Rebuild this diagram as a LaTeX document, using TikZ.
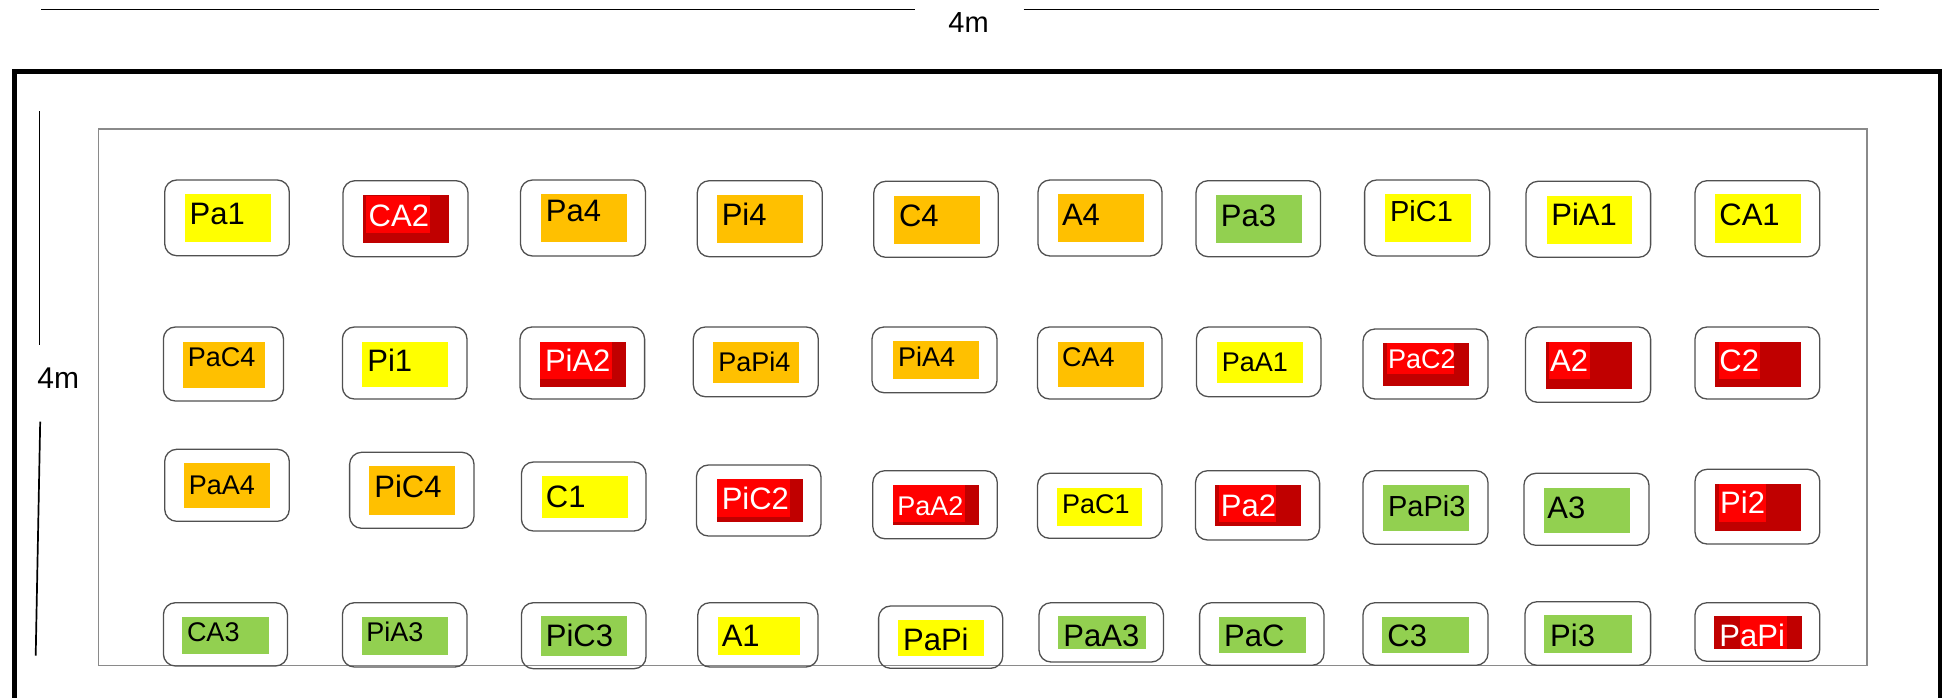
\documentclass[tikz,border=0pt]{standalone}
\usepackage{fontspec}
\setmainfont{Liberation Sans}
\definecolor{cyel}{HTML}{FFFF00}
\definecolor{corg}{HTML}{FFC000}
\definecolor{cgrn}{HTML}{92D050}
\definecolor{cdred}{HTML}{C00000}
\definecolor{cred}{HTML}{FF0000}
\definecolor{boxgray}{HTML}{505050}
\definecolor{rimgray}{HTML}{8A8A8A}
\tikzset{
  bedbox/.style={draw=boxgray, line width=0.65pt, rounded corners=6pt},
  lbl/.style={anchor=base west, inner sep=0pt, font=\fontsize{15.5}{18}\selectfont},
  sm/.style={font=\fontsize{13.5}{16}\selectfont},
  md/.style={font=\fontsize{14.5}{17}\selectfont},
  wt/.style={text=white},
  dimline/.style={line width=0.85pt, black},
  dimtxt/.style={anchor=base west, inner sep=0pt, font=\fontsize{14.5}{17}\selectfont}
}
\begin{document}
\begin{tikzpicture}[x=0.5pt,y=-0.5pt]
\useasboundingbox (0,0) rectangle (1944,697);
% dimensions
\coordinate (t1) at (41,9.5); \coordinate (t2) at (914.5,9.5);
\coordinate (t3) at (1023.5,9.5); \coordinate (t4) at (1878.6,9.5);
\draw[dimline] (t1) -- (t2);
\draw[dimline] (t3) -- (t4);
\node[dimtxt] (topdim) at (948,32.5) {4m};
\coordinate (l1) at (39.5,111); \coordinate (l2) at (39.5,345);
\coordinate (l3) at (40.2,421.7); \coordinate (l4) at (35.7,655.7);
\draw[dimline] (l1) -- (l2);
\draw[dimline] (l3) -- (l4);
\node[dimtxt, font=\fontsize{15}{18}\selectfont] (leftdim) at (37,388.3) {4m};
% outer wall and inner field
\draw[line width=2.3pt, black] (14.7,720) -- (14.7,71.5) -- (1940,71.5) -- (1940,720);
\draw[rimgray, line width=0.6pt] (98.7,129) rectangle (1867,665.7);

% ===== Row 1 =====
\draw[bedbox] (164.7,180) rectangle (289.3,255.7);
\fill[cyel] (184.8,194) rectangle (271,241.7);
\node[lbl] (pa1) at (189.3,224.3) {Pa1};

\draw[bedbox] (343,180.7) rectangle (468,256.7);
\fill[cdred] (363,195) rectangle (448.7,242.7);
\fill[cred] (366,195.7) rectangle (430,232.7);
\node[lbl,wt] (ca2) at (368.3,226) {CA2};

\draw[bedbox] (520.5,180) rectangle (645.5,256);
\fill[corg] (541,194) rectangle (627,241.7);
\node[lbl] (pa4) at (545.5,221.7) {Pa4};

\draw[bedbox] (697.3,180.7) rectangle (822.3,256.7);
\fill[corg] (717,195) rectangle (803,242.7);
\node[lbl] (pi4) at (721.4,225.7) {Pi4};

\draw[bedbox] (873.7,181.3) rectangle (998.2,257.3);
\fill[corg] (894,196) rectangle (980,243.7);
\node[lbl] (c4) at (898.7,226) {C4};

\draw[bedbox] (1038,180) rectangle (1162,256);
\fill[corg] (1058,194) rectangle (1144,241.7);
\node[lbl] (a4) at (1061.6,225) {A4};

\draw[bedbox] (1196,180.7) rectangle (1320.5,256.7);
\fill[cgrn] (1216,195) rectangle (1302,242.7);
\node[lbl] (pa3) at (1220.5,226) {Pa3};

\draw[bedbox] (1364.6,180) rectangle (1489.7,256);
\fill[cyel] (1385,194) rectangle (1470.8,241.7);
\node[lbl,md] (pic1) at (1389.7,221.7) {PiC1};

\draw[bedbox] (1526,181.3) rectangle (1650.6,257.3);
\fill[cyel] (1546.5,196) rectangle (1632,243.7);
\node[lbl] (pia1) at (1551,225.7) {PiA1};

\draw[bedbox] (1695,180.7) rectangle (1819.8,256.7);
\fill[cyel] (1714.8,194) rectangle (1800.8,242.7);
\node[lbl] (ca1) at (1719,225) {CA1};

% ===== Row 2 =====
\draw[bedbox] (163.4,327) rectangle (283.5,401);
\fill[corg] (183,342) rectangle (265,387.7);
\node[lbl,sm] (pac4) at (187.5,366.7) {PaC4};

\draw[bedbox] (342.4,327) rectangle (467,399);
\fill[cyel] (362,342) rectangle (448,386.7);
\node[lbl] (pi1) at (367,371.7) {Pi1};

\draw[bedbox] (520,327) rectangle (644.6,399);
\fill[cdred] (540,342) rectangle (626,386.7);
\fill[cred] (540,342) rectangle (612,379);
\node[lbl,wt] (pia2) at (544.6,371.7) {PiA2};

\draw[bedbox] (693.3,327) rectangle (818.3,396.7);
\fill[corg] (713,342) rectangle (799,382.7);
\node[lbl,sm] (papi4) at (717.9,371.7) {PaPi4};

\draw[bedbox] (872,327) rectangle (997,392.7);
\fill[corg] (893,341) rectangle (979,378.7);
\node[lbl,sm] (pia4) at (897.8,366) {PiA4};

\draw[bedbox] (1037.5,327) rectangle (1162,399);
\fill[corg] (1058,342) rectangle (1144,386.7);
\node[lbl,sm] (ca4) at (1061.6,366.7) {CA4};

\draw[bedbox] (1196.4,327) rectangle (1321,396.7);
\fill[cyel] (1217,342) rectangle (1303,382.7);
\node[lbl,sm] (paa1) at (1221.4,371.7) {PaA1};

\draw[bedbox] (1363,329) rectangle (1488,399);
\fill[cdred] (1383,342.7) rectangle (1469,386);
\fill[cred] (1387,342.7) rectangle (1454,374);
\node[lbl,sm,wt] (pac2) at (1387.7,368.3) {PaC2};

\draw[bedbox] (1525.5,327) rectangle (1650.6,402.3);
\fill[cdred] (1545.7,342) rectangle (1631.7,388.7);
\fill[cred] (1549.4,342) rectangle (1589.7,379);
\node[lbl,wt] (a2) at (1549.8,371.7) {A2};

\draw[bedbox] (1695,327) rectangle (1819.8,399);
\fill[cdred] (1714.8,342) rectangle (1800.8,386.7);
\fill[cred] (1719,342) rectangle (1760,379);
\node[lbl,wt] (c2) at (1719,371.7) {C2};

% ===== Row 3 =====
\draw[bedbox] (164.7,449.3) rectangle (289.3,521.3);
\fill[corg] (184,462.7) rectangle (270,508);
\node[lbl,sm] (paa4) at (188.4,494) {PaA4};

\draw[bedbox] (349.6,452.3) rectangle (474,528.3);
\fill[corg] (369,466) rectangle (455,515);
\node[lbl] (pic4) at (374,497.3) {PiC4};

\draw[bedbox] (521.4,462) rectangle (646,531);
\fill[cyel] (541.5,476) rectangle (628,517.7);
\node[lbl] (c1) at (545.5,507.3) {C1};

\draw[bedbox] (696.4,465) rectangle (821,536);
\fill[cdred] (717,479) rectangle (803,521.7);
\fill[cred] (717,479) rectangle (790,516.7);
\node[lbl,wt] (pic2) at (721.4,509.3) {PiC2};

\draw[bedbox] (872.8,470.7) rectangle (997.3,538.7);
\fill[cdred] (893,485) rectangle (979,524.7);
\fill[cred] (893,485) rectangle (965,522.3);
\node[lbl,sm,wt] (paa2) at (896.9,515.7) {PaA2};

\draw[bedbox] (1037.5,473.3) rectangle (1162,538.3);
\fill[cyel] (1057,488) rectangle (1142.4,525.7);
\node[lbl,sm] (pac1) at (1061.6,513.3) {PaC1};

\draw[bedbox] (1195.5,470.7) rectangle (1319.6,540);
\fill[cdred] (1215,485) rectangle (1301,525.7);
\fill[cred] (1219,485) rectangle (1276,522.3);
\node[lbl,wt] (pa2) at (1220.5,516) {Pa2};

\draw[bedbox] (1363,470.7) rectangle (1488,544.3);
\fill[cgrn] (1383,485) rectangle (1469,530.7);
\node[lbl,md] (papi3) at (1387.7,516.7) {PaPi3};

\draw[bedbox] (1523.9,473.3) rectangle (1649,545.3);
\fill[cgrn] (1543.6,488) rectangle (1629.6,532.7);
\node[lbl] (a3) at (1547,518.3) {A3};

\draw[bedbox] (1695,469.3) rectangle (1819.8,544);
\fill[cdred] (1714.8,484) rectangle (1800.8,530.7);
\fill[cred] (1719,484) rectangle (1766,521.7);
\node[lbl,wt] (pi2) at (1719.8,513.3) {Pi2};

% ===== Row 4 =====
\draw[bedbox] (163.4,602.7) rectangle (287.5,666);
\fill[cgrn] (182,617) rectangle (269,653.7);
\node[lbl,sm] (ca3) at (186.6,641.7) {CA3};

\draw[bedbox] (342.4,602.7) rectangle (467,667);
\fill[cgrn] (362,617) rectangle (448,654.7);
\node[lbl,sm] (pia3) at (366,641.7) {PiA3};

\draw[bedbox] (521.4,602.7) rectangle (646,668.7);
\fill[cgrn] (541,616) rectangle (627,655.7);
\node[lbl] (pic3) at (545.5,646.7) {PiC3};

\draw[bedbox] (697.8,602.7) rectangle (817.9,667);
\fill[cyel] (717.9,617) rectangle (799.6,655);
\node[lbl] (a1) at (721.4,646.7) {A1};

\draw[bedbox] (878.6,606) rectangle (1002.7,668.3);
\fill[cyel] (898,620) rectangle (984,655.7);
\node[lbl] (papiy) at (902.7,650) {PaPi};

\draw[bedbox] (1039,602.7) rectangle (1163.4,662);
\fill[cgrn] (1058,616) rectangle (1145.5,649);
\node[lbl] (paa3) at (1063,646.7) {PaA3};

\draw[bedbox] (1199.6,602.7) rectangle (1324,665.3);
\fill[cgrn] (1219,617) rectangle (1305.8,652.7);
\node[lbl] (pac) at (1223.7,646.7) {PaC};

\draw[bedbox] (1363,602.7) rectangle (1488,665.3);
\fill[cgrn] (1382,617) rectangle (1469,652.7);
\node[lbl] (c3) at (1387,646.7) {C3};

\draw[bedbox] (1525,601.7) rectangle (1650.6,665.3);
\fill[cgrn] (1544.4,615) rectangle (1631.7,652.7);
\node[lbl] (pi3) at (1549.8,646.7) {Pi3};

\draw[bedbox] (1695,602.7) rectangle (1819.8,661.3);
\fill[cdred] (1714,616) rectangle (1802,649);
\fill[cred] (1739.5,616) rectangle (1786.8,649);
\node[lbl,wt] (papir) at (1719,646.7) {PaPi};
\end{tikzpicture}
\end{document}
